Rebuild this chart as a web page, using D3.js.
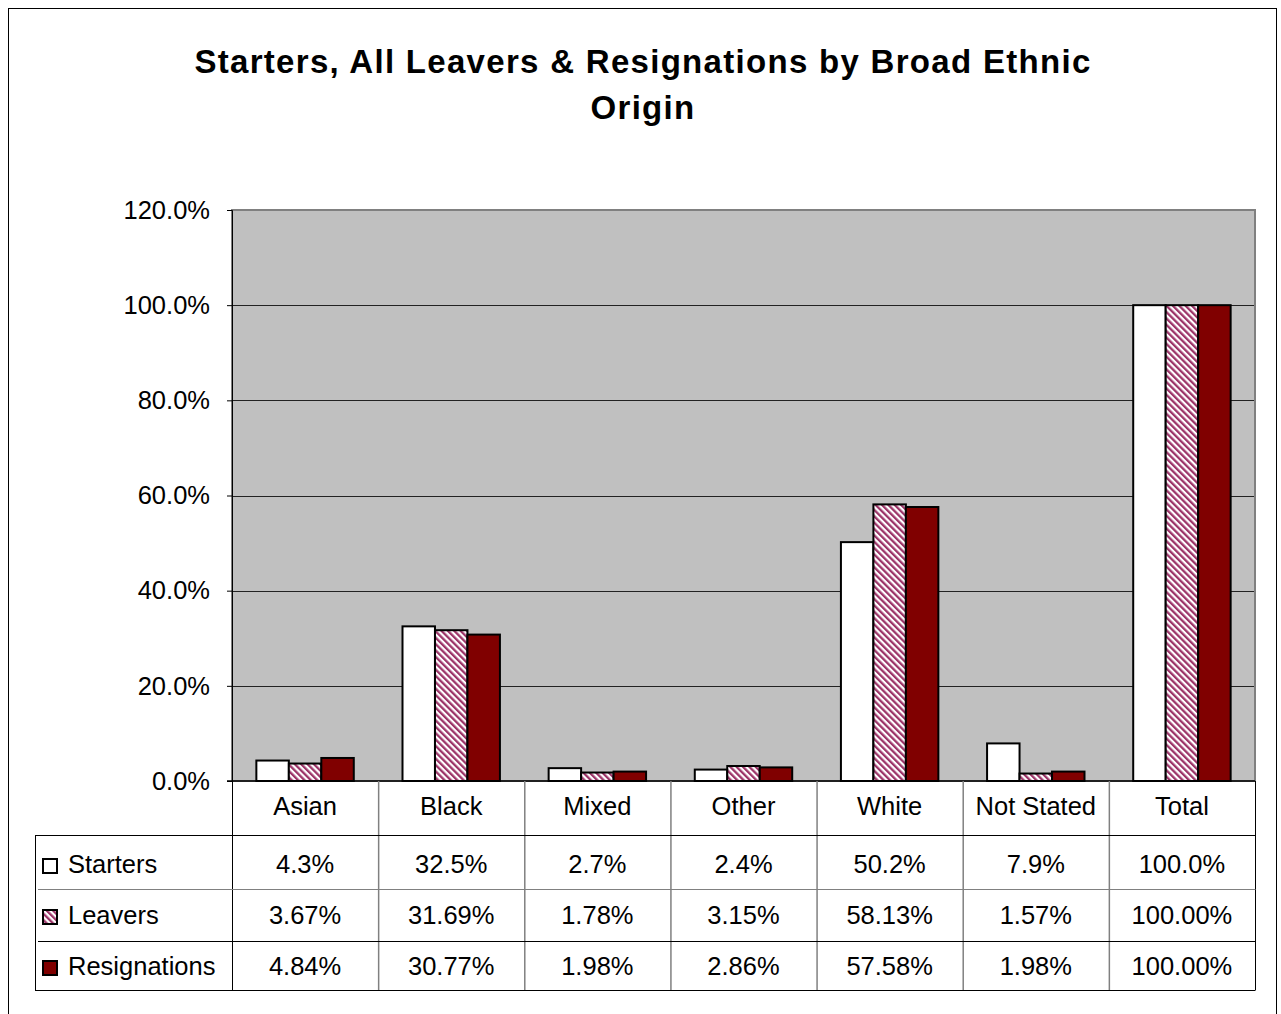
<!DOCTYPE html>
<html>
<head>
<meta charset="utf-8">
<script src="https://cdn.jsdelivr.net/npm/d3@7"></script>
<style>
  body { margin: 0; background: #fff; }
  text { font-family: "Liberation Sans", Arial, sans-serif; }
</style>
</head>
<body>
<svg id="chart" width="1281" height="1014"></svg>
<script>
const categories = ["Asian", "Black", "Mixed", "Other", "White", "Not Stated", "Total"];
const seriesNames = ["Starters", "Leavers", "Resignations"];
const starters = [4.3, 32.5, 2.7, 2.4, 50.2, 7.9, 100.0];
const leavers = [3.67, 31.69, 1.78, 3.15, 58.13, 1.57, 100.00];
const resignations = [4.84, 30.77, 1.98, 2.86, 57.58, 1.98, 100.00];
const seriesDecimals = [1, 2, 2];
const yTicks = [0, 20, 40, 60, 80, 100, 120];
const titleLines = ["Starters, All Leavers & Resignations by Broad Ethnic", "Origin"];

const seriesValues = [starters, leavers, resignations];
const svg = d3.select("#chart");
const FS = 25.5;

// outer border
svg.append("rect").attr("x", 8.5).attr("y", 8.5).attr("width", 1268).attr("height", 1030)
  .attr("fill", "#fff").attr("stroke", "#000").attr("stroke-width", 1);

// pattern
const defs = svg.append("defs");
const pat = defs.append("pattern").attr("id", "stripes").attr("patternUnits", "userSpaceOnUse")
  .attr("width", 4.5).attr("height", 4.5).attr("patternTransform", "rotate(-45)");
pat.append("rect").attr("width", 4.5).attr("height", 4.5).attr("fill", "#fff");
pat.append("rect").attr("width", 2.3).attr("height", 4.5).attr("fill", "#9c3468");

const fills = ["#ffffff", "url(#stripes)", "#800000"];

const pLeft = 232, pRight = 1255, pTop = 210, pBottom = 781;
const x0 = d3.scaleBand().domain(categories).range([pLeft, pRight]).paddingInner(0).paddingOuter(0);
const x1 = d3.scaleBand().domain(seriesNames).range([0, x0.bandwidth()]).paddingInner(0).paddingOuter(0.75);
const y = d3.scaleLinear().domain([0, 120]).range([pBottom, pTop]);

// title
const title = svg.append("text").attr("x", 643).attr("text-anchor", "middle")
  .attr("font-size", 33).attr("font-weight", "bold").attr("letter-spacing", 1.3).attr("fill", "#000");
titleLines.forEach((t, i) => title.append("tspan").attr("x", 643).attr("y", 73 + i * 46).text(t));

// plot area
svg.append("rect").attr("x", pLeft).attr("y", pTop).attr("width", pRight - pLeft).attr("height", pBottom - pTop)
  .attr("fill", "#c0c0c0");

// gridlines
svg.append("g").selectAll("line").data(yTicks.filter(d => d > 0 && d < 120)).join("line")
  .attr("x1", pLeft).attr("x2", pRight).attr("y1", d => Math.round(y(d)) + 0.5).attr("y2", d => Math.round(y(d)) + 0.5)
  .attr("stroke", "#222").attr("stroke-width", 1);

// plot border
svg.append("rect").attr("x", pLeft).attr("y", pTop).attr("width", pRight - pLeft).attr("height", pBottom - pTop)
  .attr("fill", "none").attr("stroke", "#808080").attr("stroke-width", 2);

// y axis
const yAxis = d3.axisLeft(y).tickValues(yTicks).tickSize(5).tickPadding(17)
  .tickFormat(d => d.toFixed(1) + "%");
const ya = svg.append("g").attr("transform", `translate(${pLeft},0)`).call(yAxis);
ya.select(".domain").attr("stroke", "#000");
ya.selectAll(".tick line").attr("stroke", "#000");
ya.selectAll(".tick text").attr("font-size", FS).attr("fill", "#000").attr("font-family", "Liberation Sans, Arial, sans-serif");

// bars
const bars = svg.append("g");
categories.forEach((c, ci) => {
  seriesNames.forEach((s, si) => {
    const v = seriesValues[si][ci];
    bars.append("rect")
      .attr("x", x0(c) + x1(s)).attr("y", y(v))
      .attr("width", x1.bandwidth()).attr("height", y(0) - y(v))
      .attr("fill", fills[si]).attr("stroke", "#000").attr("stroke-width", 2);
  });
});

// x axis line (bottom of plot)
svg.append("line").attr("x1", pLeft - 5).attr("x2", pRight).attr("y1", pBottom).attr("y2", pBottom)
  .attr("stroke", "#000").attr("stroke-width", 1.5);

// data table
const tableLeft = 35;
const rowLines = [835, 889, 941, 990];
const rowColors = ["#000", "#808080", "#000", "#000"];
const tg = svg.append("g");
categories.forEach((c, ci) => {
  if (ci === 0) return;
  tg.append("line").attr("x1", x0(c) + 0.5).attr("x2", x0(c) + 0.5).attr("y1", pBottom).attr("y2", 990)
    .attr("stroke", "#808080").attr("stroke-width", 1.5);
});
tg.append("line").attr("x1", pRight + 0.5).attr("x2", pRight + 0.5).attr("y1", pBottom).attr("y2", 990).attr("stroke", "#000");
tg.append("line").attr("x1", pLeft + 0.5).attr("x2", pLeft + 0.5).attr("y1", pBottom).attr("y2", 990).attr("stroke", "#000");
tg.append("line").attr("x1", tableLeft + 0.5).attr("x2", tableLeft + 0.5).attr("y1", 835).attr("y2", 990).attr("stroke", "#000");
rowLines.forEach((ry, i) => {
  tg.append("line").attr("x1", i === 0 || i === 3 ? tableLeft : 38).attr("x2", pRight + 0.5)
    .attr("y1", ry + 0.5).attr("y2", ry + 0.5).attr("stroke", rowColors[i]).attr("stroke-width", 1);
});

// category labels
tg.selectAll("text.cat").data(categories).join("text").attr("class", "cat")
  .attr("x", d => x0(d) + x0.bandwidth() / 2).attr("y", 815).attr("text-anchor", "middle")
  .attr("font-size", FS).attr("fill", "#000").text(d => d);

// rows
const rowBase = [873, 924, 975];
seriesNames.forEach((s, si) => {
  const cy = rowBase[si] - 7;
  tg.append("rect").attr("x", 43).attr("y", cy - 7).attr("width", 14).attr("height", 14)
    .attr("fill", fills[si]).attr("stroke", "#000").attr("stroke-width", 2);
  tg.append("text").attr("x", 68).attr("y", rowBase[si]).attr("font-size", FS).attr("fill", "#000").text(s);
  categories.forEach((c, ci) => {
    tg.append("text").attr("x", x0(c) + x0.bandwidth() / 2).attr("y", rowBase[si])
      .attr("text-anchor", "middle").attr("font-size", FS).attr("fill", "#000")
      .text(seriesValues[si][ci].toFixed(seriesDecimals[si]) + "%");
  });
});
</script>
</body>
</html>
